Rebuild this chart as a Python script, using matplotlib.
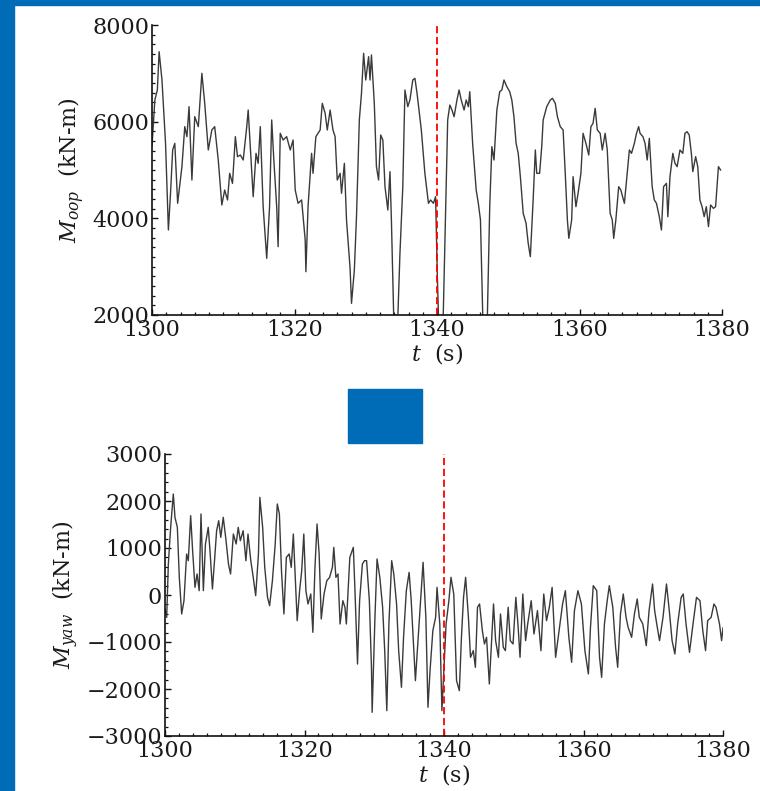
import matplotlib
matplotlib.use("Agg")
import matplotlib.pyplot as plt
from matplotlib.ticker import MultipleLocator
from matplotlib.patches import Rectangle

plt.rcParams['font.family'] = ['DejaVu Serif']
plt.rcParams['mathtext.fontset'] = 'dejavuserif'

# ---- data: out-of-plane moment (top) ----
t_oop = [1300.0, 1300.4, 1300.75, 1301.0, 1301.4, 1301.9, 1302.3, 1302.6, 1302.9, 1303.2, 1303.6, 1304.2, 1304.6, 1304.9,
         1305.2, 1305.6, 1306.0, 1306.5, 1307.0, 1307.4, 1307.9, 1308.4, 1308.8, 1309.3, 1309.8, 1310.2, 1310.6, 1310.9,
         1311.3, 1311.7, 1312.0, 1312.4, 1312.8, 1313.3, 1313.5, 1313.8, 1314.2, 1314.6, 1314.9, 1315.2, 1315.6, 1316.1,
         1316.5, 1316.8, 1317.1, 1317.5, 1317.7, 1318.0, 1318.4, 1318.9, 1319.4, 1319.8, 1320.1, 1320.5, 1321.0, 1321.5,
         1321.6, 1321.9, 1322.4, 1322.6, 1323.0, 1323.6, 1323.9, 1324.3, 1324.6, 1325.0, 1325.4, 1325.7, 1326.0, 1326.4,
         1326.6, 1327.0, 1327.3, 1327.8, 1328.0, 1328.4, 1328.7, 1329.1, 1329.4, 1329.7, 1330.0, 1330.4, 1330.6, 1330.8,
         1331.2, 1331.5, 1331.8, 1332.1, 1332.4, 1332.7, 1333.1, 1333.4, 1333.6, 1334.0, 1334.4, 1334.8, 1335.2, 1335.5,
         1335.9, 1336.2, 1336.6, 1336.9, 1337.2, 1337.8, 1338.3, 1338.8, 1339.1, 1339.5, 1339.8, 1340.05, 1340.3, 1340.8,
         1341.1, 1341.5, 1341.8, 1342.1, 1342.4, 1342.8, 1343.1, 1343.4, 1343.8, 1344.1, 1344.4, 1344.6, 1345.0, 1345.5,
         1345.8, 1346.1, 1346.5, 1347.0, 1347.4, 1347.7, 1348.0, 1348.4, 1348.8, 1349.1, 1349.4, 1349.8, 1350.2, 1350.5,
         1350.8, 1351.1, 1351.4, 1351.7, 1352.1, 1352.5, 1352.8, 1353.1, 1353.5, 1353.8, 1354.0, 1354.4, 1354.7, 1354.9,
         1355.4, 1355.9, 1356.2, 1356.6, 1356.9, 1357.3, 1357.7, 1358.0, 1358.3, 1358.5, 1358.9, 1359.1, 1359.5, 1359.8,
         1360.2, 1360.5, 1360.9, 1361.3, 1361.6, 1361.9, 1362.2, 1362.5, 1362.9, 1363.2, 1363.6, 1363.9, 1364.3, 1364.6,
         1364.8, 1365.1, 1365.5, 1365.8, 1366.3, 1366.6, 1367.0, 1367.3, 1367.7, 1368.0, 1368.3, 1368.5, 1368.9, 1369.2,
         1369.5, 1369.8, 1370.2, 1370.5, 1370.8, 1371.2, 1371.5, 1371.8, 1372.2, 1372.4, 1372.7, 1373.1, 1373.4, 1373.7,
         1374.1, 1374.5, 1374.8, 1375.1, 1375.4, 1375.7, 1375.9, 1376.3, 1376.6, 1376.9, 1377.2, 1377.5, 1377.8, 1378.1,
         1378.4, 1378.8, 1379.1, 1379.5, 1379.8]
m_oop = [5500, 6449, 6656, 7448, 6862, 5552, 3759, 4518, 5414, 5552, 4311, 5069, 5897, 5690,
         6310, 4793, 6103, 5897, 7000, 6380, 5414, 5828, 5897, 5207, 4276, 4586, 4380, 4931,
         4724, 5690, 5276, 5310, 5207, 5897, 6241, 5483, 4448, 5345, 5138, 5897, 4241, 3172,
         4241, 6035, 5207, 4241, 3414, 5759, 5621, 5690, 5414, 5621, 4586, 4311, 4380, 3552,
         2896, 4241, 5345, 4931, 5690, 5828, 6380, 6173, 5828, 6241, 5828, 5690, 4793, 4931,
         4518, 5138, 3966, 2966, 2241, 2931, 4034, 6035, 6586, 7414, 6862, 7345, 6862, 7380,
         6380, 5069, 4793, 5724, 5621, 4655, 4172, 4966, 3966, 1500, 1500, 3276, 4655, 6655,
         6311, 6449, 6862, 6897, 6586, 5828, 4931, 4311, 4380, 4311, 4448, 2793, 1500, 1500,
         3483, 6035, 6345, 6241, 6103, 6449, 6655, 6449, 6241, 6449, 6310, 6621, 5552, 4586,
         4311, 3966, 1500, 1500, 4241, 5483, 5207, 6241, 6621, 6655, 6862, 6724, 6621, 6449,
         6103, 5552, 5345, 4862, 4104, 3897, 3483, 3207, 4400, 5414, 4931, 4931, 5483, 6035,
         6310, 6449, 6483, 6380, 6103, 5897, 5828, 4931, 3966, 3586, 3966, 4862, 4241, 4518,
         4931, 5759, 5552, 5310, 5897, 5966, 6276, 5828, 5759, 5414, 5759, 5414, 4104, 3966,
         3586, 3966, 4655, 4586, 4311, 4793, 5414, 5345, 5552, 5759, 5897, 5759, 5690, 5552,
         5207, 5655, 4655, 4380, 4311, 4034, 3759, 4655, 4724, 4034, 4862, 5345, 5138, 5069,
         5414, 5345, 5759, 5793, 5724, 5345, 4966, 5276, 5069, 4380, 4241, 4034, 4241, 3828,
         4276, 4207, 4241, 5069, 5000]

# ---- data: yaw moment (bottom) ----
t_yaw = [1300.0, 1300.24, 1300.48, 1300.81, 1301.19, 1301.43, 1301.77, 1302.05, 1302.39, 1302.72, 1303.1, 1303.34,
         1303.68, 1303.96, 1304.3, 1304.6, 1304.9, 1305.16, 1305.5, 1305.8, 1306.2, 1306.45, 1306.8, 1307.1, 1307.4,
         1307.7, 1308.0, 1308.35, 1308.7, 1309.1, 1309.4, 1309.8, 1310.2, 1310.5, 1310.8, 1311.2, 1311.6, 1311.9,
         1312.3, 1312.65, 1313.0, 1313.4, 1313.6, 1314.0, 1314.3, 1314.7, 1315.0, 1315.4, 1315.8, 1316.1, 1316.4,
         1316.7, 1317.05, 1317.4, 1317.8, 1318.1, 1318.4, 1318.7, 1318.95, 1319.3, 1319.6, 1319.9, 1320.2, 1320.5,
         1320.9, 1321.2, 1321.5, 1321.8, 1322.1, 1322.4, 1322.8, 1323.2, 1323.6, 1324.0, 1324.2, 1324.5, 1324.8,
         1325.1, 1325.5, 1325.8, 1326.0, 1326.5, 1327.0, 1327.2, 1327.6, 1327.9, 1328.3, 1328.6, 1328.9, 1329.3,
         1329.6, 1329.7, 1330.1, 1330.4, 1330.8, 1331.2, 1331.5, 1331.8, 1332.1, 1332.5, 1332.8, 1333.2, 1333.5,
         1333.9, 1334.2, 1334.6, 1335.0, 1335.3, 1335.7, 1335.9, 1336.3, 1336.6, 1337.0, 1337.4, 1337.7, 1338.0,
         1338.4, 1338.8, 1339.0, 1339.4, 1339.7, 1340.0, 1340.3, 1340.7, 1341.0, 1341.4, 1341.8, 1342.2, 1342.5,
         1342.8, 1343.1, 1343.5, 1343.8, 1344.2, 1344.5, 1344.8, 1345.1, 1345.5, 1345.8, 1346.1, 1346.5, 1346.8,
         1347.1, 1347.4, 1347.8, 1348.1, 1348.5, 1348.8, 1349.2, 1349.5, 1349.9, 1350.3, 1350.6, 1350.9, 1351.3,
         1351.7, 1352.0, 1352.5, 1352.9, 1353.4, 1353.9, 1354.3, 1354.7, 1355.1, 1355.5, 1356.0, 1356.5, 1357.0,
         1357.4, 1357.9, 1358.3, 1358.7, 1359.2, 1359.7, 1360.2, 1360.7, 1361.0, 1361.4, 1361.9, 1362.3, 1362.6,
         1363.0, 1363.4, 1363.7, 1364.2, 1364.6, 1364.9, 1365.3, 1365.7, 1366.1, 1366.4, 1366.9, 1367.3, 1367.7,
         1368.0, 1368.5, 1369.0, 1369.4, 1369.9, 1370.2, 1370.5, 1370.9, 1371.4, 1371.9, 1372.3, 1372.7, 1373.1,
         1373.5, 1374.0, 1374.3, 1374.7, 1375.2, 1375.7, 1376.2, 1376.7, 1377.1, 1377.5, 1377.8, 1378.3, 1378.7,
         1379.0, 1379.5, 1379.8, 1380.0]
m_yaw = [-300, -475, 659, 1439, 2148, 1652, 1439, 376, -404, -121, 872, 730,
         1687, 943, 163, 447, 92, 1723, 92, 1085, 1439, 943, 128, 730, 1368,
         1581, 1227, 1652, 1227, 659, 447, 1297, 1085, 1439, 1156, 1368, 730, 1297,
         730, 376, -14, 872, 2077, 1439, 588, -50, -227, 305, 1085, 1936, 1723,
         518, -404, 801, 872, 588, 1297, 305, -546, 92, 518, 1297, 92, -191,
         21, -794, 588, 1510, 872, -510, 21, 305, 376, 588, 1014, 376, 447,
         -617, -121, -262, -617, 801, 1014, 234, -1468, -121, 659, 730, 730, -121,
         -1539, -2496, -475, 766, 376, -262, -1184, -2460, -617, 730, 447, -191, -1184,
         -1964, -900, 92, 482, -121, -1255, -1822, -900, -191, 695, -475, -2389, -1609,
         -759, -475, 163, -617, -2460, -1539, -617, -121, 376, 21, -1822, -2035, -900,
         -50, 376, -475, -1326, -1184, -1539, -262, -191, -759, -1042, -900, -1893, -1042,
         -191, -971, -1326, -404, -1113, -1184, -262, -971, -1042, -50, -617, -1326, 21,
         -971, -617, -121, -830, -333, -1184, 21, -546, -262, 163, -1326, -759, -191,
         92, -900, -1432, -333, 92, -191, -1184, -1680, -688, 199, 92, -1326, -1751,
         -617, -121, 199, -262, -1113, -1539, -404, 21, -475, -688, -900, -404, -85,
         -475, -617, -1078, -333, 234, -333, -617, -971, -475, 234, -333, -971, -1255,
         -617, -50, 21, -617, -1220, -617, -50, -121, -759, -1184, -546, -475, -191,
         -262, -617, -971, -700]

event_time = 1340
x_ticks = [1300, 1320, 1340, 1360, 1380]
oop_ticks = [2000, 4000, 6000, 8000]
yaw_ticks = [-3000, -2000, -1000, 0, 1000, 2000, 3000]

BLUE = '#006BB6'
TXT = '#1a1a1a'
LINE = '#3a3a3a'

fig = plt.figure(figsize=(7.6, 7.91), dpi=100)
fig.patch.set_facecolor('white')

# blue frame pieces
fig.add_artist(Rectangle((0, 1 - 5/791), 1, 5/791, transform=fig.transFigure, color=BLUE, zorder=0))
fig.add_artist(Rectangle((0, 0), 14/760, 1, transform=fig.transFigure, color=BLUE, zorder=0))
fig.add_artist(Rectangle((348/760, (791-443)/791), 74/760, 54/791, transform=fig.transFigure, color=BLUE, zorder=0))

ax1 = fig.add_axes([152/760, (791-315)/791, (722-152)/760, (315-25)/791])
ax2 = fig.add_axes([165/760, (791-736)/791, (723-165)/760, (736-454)/791])

def style(ax, yt, ylims, ylabel):
    ax.set_xlim(1300, 1380)
    ax.set_ylim(*ylims)
    ax.set_xticks(x_ticks)
    ax.set_yticks(yt)
    ax.xaxis.set_minor_locator(MultipleLocator(2))
    ax.yaxis.set_minor_locator(MultipleLocator(200))
    for s in ('top', 'right'):
        ax.spines[s].set_visible(False)
    for s in ('left', 'bottom'):
        ax.spines[s].set_linewidth(1.2)
        ax.spines[s].set_color('#111111')
    ax.tick_params(which='major', direction='in', length=4, width=1.0, color='#111111',
                   labelsize=16, labelcolor=TXT, pad=2)
    ax.tick_params(which='minor', direction='in', length=2, width=0.9, color='#111111')
    ax.tick_params(axis='x', pad=3)
    ax.set_xlabel('$t$  (s)', fontsize=16, color=TXT, labelpad=0)
    ax.set_ylabel(ylabel, fontsize=16, color=TXT, labelpad=4)
    ax.set_facecolor('none')

ax1.plot(t_oop, m_oop, color=LINE, lw=1.0)
ax1.axvline(event_time, color='red', lw=1.3, dashes=(4, 2))
style(ax1, oop_ticks, (2000, 8000), '$M_{oop}$  (kN-m)')

ax2.plot(t_yaw, m_yaw, color=LINE, lw=1.0)
ax2.axvline(event_time, color='red', lw=1.3, dashes=(4, 2))
style(ax2, yaw_ticks, (-3000, 3000), '$M_{yaw}$  (kN-m)')

fig.savefig('out.png', dpi=100)
